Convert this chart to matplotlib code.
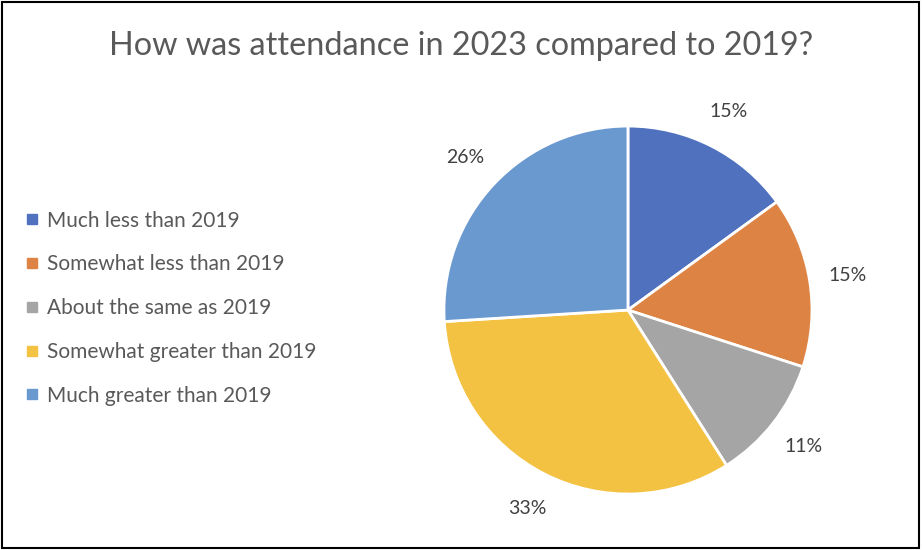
import matplotlib.pyplot as plt
from matplotlib.lines import Line2D
from matplotlib.patches import Rectangle

categories = ['Much less than 2019', 'Somewhat less than 2019', 'About the same as 2019',
              'Somewhat greater than 2019', 'Much greater than 2019']
shares = [15, 15, 11, 33, 26]
colors = ['#4F71BE', '#DD8344', '#A5A5A5', '#F4C242', '#6A99D0']

plt.rcParams['font.family'] = ['Lato', 'DejaVu Sans']

fig = plt.figure(figsize=(9.23, 5.5), dpi=100)
fig.patches.append(Rectangle((0.002, 0.004), 0.994, 0.992, transform=fig.transFigure,
                             fill=False, edgecolor='black', linewidth=1.5))

fig.text(0.5, 0.917, 'How was attendance in 2023 compared to 2019?', ha='center', va='center',
         fontsize=23.3, color='#595959')

ax = fig.add_axes([0.481, 0.1018, 0.3987, 0.669])
wedges, texts, autotexts = ax.pie(shares, colors=colors, startangle=90, counterclock=False,
                                  autopct='%1.0f%%', pctdistance=1.21, radius=1,
                                  wedgeprops=dict(edgecolor='white', linewidth=2))
for t in autotexts:
    t.set_fontsize(14)
    t.set_color('#404040')
ax.set_xlim(-1, 1)
ax.set_ylim(-1, 1)
ax.set_aspect('auto')

handles = [Line2D([], [], marker='s', linestyle='none', markersize=7, color=c) for c in colors]
fig.legend(handles, categories, loc='upper left', bbox_to_anchor=(0.02, 0.632), frameon=False,
           fontsize=15, labelcolor='#595959', handlelength=0.5, handletextpad=0.45,
           labelspacing=1.14, borderaxespad=0)

fig.savefig('out.png', dpi=100)
